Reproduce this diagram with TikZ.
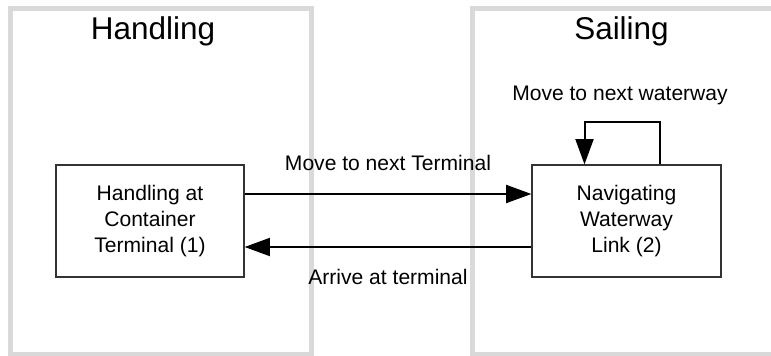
\documentclass[tikz,border=0pt]{standalone}
\usepackage{fontspec}
\setmainfont{Liberation Sans}
\usetikzlibrary{arrows.meta,calc}
\definecolor{poolgray}{HTML}{D9D9D9}
\definecolor{boxline}{HTML}{333333}
\begin{document}
\begin{tikzpicture}[x=0.75pt,y=-0.75pt,
  pool/.style={draw=poolgray, line width=3.75pt, minimum width=226.1pt,
    minimum height=258.75pt, inner sep=0pt},
  title/.style={anchor=base, font=\fontsize{23.6pt}{28pt}\selectfont},
  state/.style={draw=boxline, line width=0.9pt, minimum height=84pt,
    align=center, inner sep=0pt, font=\fontsize{15.8pt}{19.2pt}\selectfont},
  flowlabel/.style={anchor=base, font=\fontsize{15.8pt}{19.2pt}\selectfont},
  flow/.style={line width=1.5pt, -{Triangle[length=19pt,width=13.5pt]}}]
  \clip (0,0) rectangle (771,356);
  % swimlanes
  \node[pool] (handlane) at (161.25,181.5) {};
  \node[pool] (saillane) at (623.25,181.5) {};
  \node[title] (handtitle) at (153,40) {Handling};
  \node[title] (sailtitle) at (621.5,40) {Sailing};
  % states
  \node[state, minimum width=141pt] (term) at (150,221)
    {Handling at\\Container\\Terminal (1)};
  \node[state, minimum width=141.75pt] (nav) at (626.5,221)
    {Navigating\\Waterway\\Link (2)};
  % transitions
  \draw[flow] ($(term.east)+(0,-27)$) -- ($(nav.west)+(0,-27)$);
  \draw[flow] ($(nav.west)+(0,26)$) -- ($(term.east)+(0,26)$);
  \coordinate (loopR) at ($(nav.north)+(33,0)$);
  \coordinate (loopL) at ($(nav.north)+(-42,0)$);
  \draw[flow] (loopR) -- (loopR |- 0,122) -- (loopL |- 0,122) -- (loopL);
  \node[flowlabel] (nextterm) at (388,171) {Move to next Terminal};
  \node[flowlabel] (arrive) at (388,284) {Arrive at terminal};
  \node[flowlabel] (nextway) at (620,101) {Move to next waterway};
\end{tikzpicture}
\end{document}
